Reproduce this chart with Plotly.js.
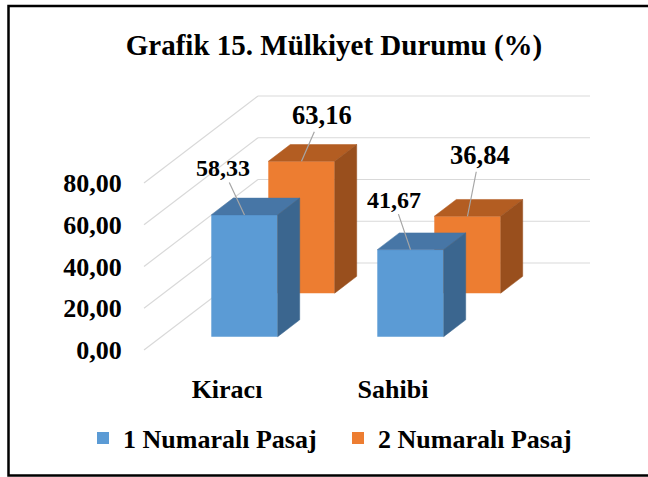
<!DOCTYPE html>
<html><head><meta charset="utf-8">
<script src="https://cdn.plot.ly/plotly-3.0.1.min.js"></script>
<style>html,body{margin:0;padding:0;background:#fff}#chart{width:648px;height:477px}</style>
</head><body><div id="chart"></div>
<script>
// ---- data ----
const categories = ['Kiracı', 'Sahibi'];
const seriesNames = ['1 Numaralı Pasaj', '2 Numaralı Pasaj'];
const pasaj1 = [58.33, 41.67];
const pasaj2 = [63.16, 36.84];
const yTicks = [0, 20, 40, 60, 80];
const chartTitle = 'Grafik 15. Mülkiyet Durumu (%)';

// ---- geometry / style (pixels) ----
const W = 648, H = 477;
const PL = 134, PR = 600, PT = 87, PB = 360;   // plot area
const X0 = 144, Y0 = 350;                      // front-left-bottom corner of floor
const SX = 166, SY = 167 / 80;                 // px per category, px per value unit
const K = 0.763;                               // depth slope (dy/dx)
const DEPTH = 114;                             // floor depth (px along x)
const BAR_DEPTH = 22, BAR_W = 0.4;
const depthStart = [17.5, 74.5];               // depth of each series' front face
const FONT = 'Liberation Serif, Times New Roman, serif';
const colors = [
  {front: '#5b9bd5', top: '#4776a6', side: '#3b668f'},
  {front: '#ed7d31', top: '#b35d22', side: '#994f1d'}
];
const labelFont = [24, 26.5];
const labelOffsets = [[[-22, -47], [-17, -50]], [[20, -46], [12, -61]]];

const dx = d => d / SX, dy = d => d * K / SY;
const xr = [-0.5 + (PL - X0) / SX, -0.5 + (PR - X0) / SX];
const yr = [(Y0 - PB) / SY, (Y0 - PT) / SY];
const paperX = px => (px - PL) / (PR - PL);
const paperY = py => (PB - py) / (PB - PT);

const series = [pasaj1, pasaj2];
const traces = [];
const faces = [];
const annotations = [];

// draw back series first, front series last
[1, 0].forEach(s => {
  const vals = series[s];
  const off = depthStart[s];
  const xs = categories.map((c, i) => i + dx(off));
  traces.push({
    type: 'bar', name: seriesNames[s], x: xs, y: vals,
    base: vals.map(() => dy(off)), width: BAR_W,
    marker: {color: colors[s].front, line: {width: 0}},
    hoverinfo: 'skip', legendrank: s + 1
  });
  vals.forEach((v, i) => {
    const xl = xs[i] - BAR_W / 2, xR = xs[i] + BAR_W / 2;
    const yb = dy(off), yt = dy(off) + v;
    const ddx = dx(BAR_DEPTH), ddy = dy(BAR_DEPTH);
    faces.push({poly: [[xl, yt], [xR, yt], [xR + ddx, yt + ddy], [xl + ddx, yt + ddy]], color: colors[s].top});
    faces.push({poly: [[xR, yb], [xR, yt], [xR + ddx, yt + ddy], [xR + ddx, yb + ddy]], color: colors[s].side});
    annotations.push({
      xref: 'x', yref: 'y', x: xs[i], y: yt,
      text: v.toFixed(2).replace('.', ','),
      showarrow: true, arrowhead: 0, arrowwidth: 1.2, arrowcolor: '#a6a6a6', standoff: 0,
      ax: labelOffsets[s][i][0], ay: labelOffsets[s][i][1],
      font: {family: FONT, size: labelFont[s], color: '#000', weight: 'bold'}
    });
  });
});

faces.forEach(f => {
  const p = f.poly.concat([f.poly[0]]);
  traces.push({
    type: 'scatter', mode: 'lines', x: p.map(q => q[0]), y: p.map(q => q[1]),
    fill: 'toself', fillcolor: f.color, line: {color: f.color, width: 0.5},
    hoverinfo: 'skip', showlegend: false
  });
});

// gridlines on left wall and back wall
const shapes = [];
yTicks.forEach(v => {
  const xb = -0.5 + dx(DEPTH), yb = v + dy(DEPTH);
  shapes.push({type: 'line', xref: 'x', yref: 'y', layer: 'below', x0: -0.5, y0: v, x1: xb, y1: yb,
               line: {color: '#d9d9d9', width: 1.2}});
  shapes.push({type: 'line', xref: 'x', yref: 'y', layer: 'below', x0: xb, y0: yb, x1: 1.5 + dx(DEPTH), y1: yb,
               line: {color: '#d9d9d9', width: 1.2}});
});
// chart border
shapes.push({type: 'rect', xref: 'paper', yref: 'paper', layer: 'above',
  x0: paperX(8.5), x1: paperX(700), y0: paperY(6), y1: paperY(475.5),
  line: {color: '#000', width: 2.5}, fillcolor: 'rgba(0,0,0,0)'});

const layout = {
  width: W, height: H,
  margin: {l: PL, r: W - PR, t: PT, b: H - PB, pad: 0},
  paper_bgcolor: '#fff', plot_bgcolor: 'rgba(0,0,0,0)',
  separators: ',.',
  font: {family: FONT, size: 26, color: '#000', weight: 'bold'},
  title: {text: chartTitle, font: {family: FONT, size: 29, color: '#000', weight: 'bold'},
          xref: 'container', yref: 'container', x: 334 / W, y: 1 - 45 / H, xanchor: 'center', yanchor: 'middle'},
  barmode: 'overlay',
  xaxis: {range: xr, tickvals: [0, 1], ticktext: categories, showgrid: false, zeroline: false, showline: false,
          ticks: 'outside', ticklen: 6, tickcolor: 'rgba(0,0,0,0)', fixedrange: true,
          tickfont: {family: FONT, size: 26, color: '#000', weight: 'bold'}},
  yaxis: {range: yr, tickvals: yTicks, tickformat: '.2f', showgrid: false, zeroline: false, showline: false,
          ticks: 'outside', ticklen: 6, tickcolor: 'rgba(0,0,0,0)', fixedrange: true,
          tickfont: {family: FONT, size: 26, color: '#000', weight: 'bold'}},
  showlegend: true,
  legend: {orientation: 'h', x: paperX(83), y: paperY(438), xanchor: 'left', yanchor: 'middle',
           entrywidth: 210, entrywidthmode: 'pixels',
           traceorder: 'normal', font: {family: FONT, size: 26, color: '#000', weight: 'bold'},
           bgcolor: 'rgba(0,0,0,0)'},
  shapes: shapes,
  annotations: annotations
};

Plotly.newPlot('chart', traces, layout, {displayModeBar: false, staticPlot: true});
</script>
</body></html>
